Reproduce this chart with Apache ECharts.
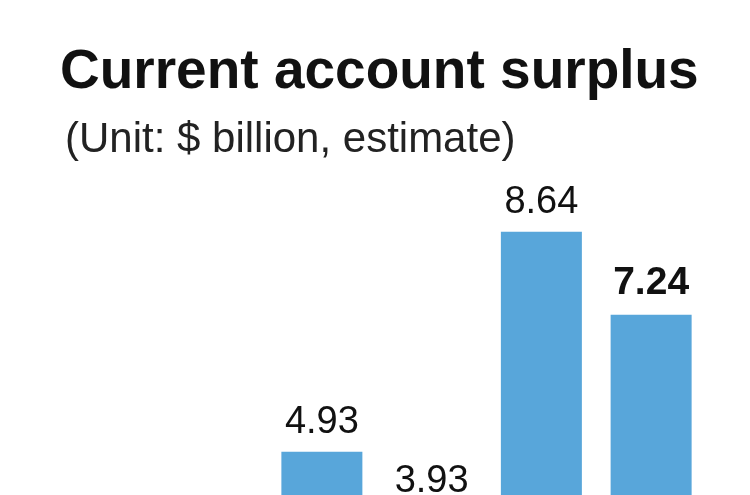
<!DOCTYPE html>
<html>
<head>
<meta charset="utf-8">
<style>html,body{margin:0;padding:0;background:#fff;}#c{width:750px;height:495px;}</style>
<script src="https://cdn.jsdelivr.net/npm/echarts@6/dist/echarts.min.js"></script>
</head>
<body>
<div id="c"></div>
<script>
var titleText = 'Current account surplus';
var subtitleText = '(Unit: $ billion, estimate)';
var categories = ['P1', 'P2', 'P3', 'P4'];
var values = [4.93, 3.93, 8.64, 7.24];
var boldIndex = [3];

var chart = echarts.init(document.getElementById('c'), null, {renderer: 'canvas'});
var labelFont = "'Liberation Sans', Arial, sans-serif";
var data = values.map(function (v, i) {
  var d = {value: v};
  if (boldIndex.indexOf(i) >= 0) {
    d.label = {fontWeight: 'bold', fontSize: 39, distance: 12};
  }
  return d;
});
chart.setOption({
  backgroundColor: '#ffffff',
  animation: false,
  title: [
    {text: titleText, left: 55, top: 40,
     textStyle: {fontFamily: "'Liberation Sans', Arial, sans-serif", fontWeight: 'bold', fontSize: 55, color: '#111111'}},
    {text: subtitleText, left: 60, top: 114,
     textStyle: {fontFamily: "'Liberation Sans', Arial, sans-serif", fontWeight: 'normal', fontSize: 42, color: '#222222'}}
  ],
  grid: {left: 267, width: 439, top: 151, bottom: -249, containLabel: false, outerBoundsMode: 'none'},
  xAxis: {type: 'category', data: categories, show: false},
  yAxis: {type: 'value', min: 0, max: 10, show: false},
  series: [{
    type: 'bar',
    data: data,
    barWidth: 81,
    itemStyle: {color: '#58a6da'},
    label: {show: true, position: 'top', distance: 10, color: '#111111',
            fontFamily: labelFont, fontSize: 38,
            formatter: function (p) { return p.value.toFixed(2); }}
  }]
});
</script>
</body>
</html>
